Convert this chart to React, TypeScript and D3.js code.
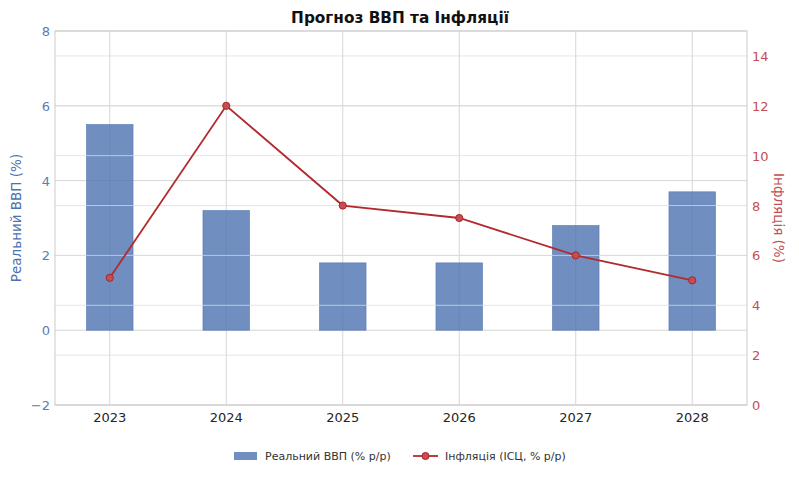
import React from "react";
import * as d3 from "d3";

const years = ["2023", "2024", "2025", "2026", "2027", "2028"];
const gdp = [5.5, 3.2, 1.8, 1.8, 2.8, 3.7];
const inflation = [5.1, 12, 8, 7.5, 6, 5];
const leftTicks = [-2, 0, 2, 4, 6, 8];
const rightTicks = [0, 2, 4, 6, 8, 10, 12, 14];

const W = 799, H = 479;
const m = { left: 55, right: 747, top: 31, bottom: 405 };
const FONT = "DejaVu Sans, sans-serif";
const BLUE = "#4C72B0";
const RED = "#C44E52";

export default function App() {
  const x = d3.scaleLinear().domain([-0.47, 5.47]).range([m.left, m.right]);
  const yL = d3.scaleLinear().domain([-2, 8]).range([m.bottom, m.top]);
  const yR = d3.scaleLinear().domain([0, 15]).range([m.bottom, m.top]);
  const barW = x(0.4) - x(0);
  const line = d3.line<number>().x((_, i) => x(i)).y((d) => yR(d));

  return (
    <div style={{ margin: -8 }}>
      <svg width={W} height={H} style={{ display: "block", background: "#fff" }} fontFamily={FONT}>
        <text x={400} y={23} textAnchor="middle" fontSize={15.3} fontWeight="bold" fill="#111">
          Прогноз ВВП та Інфляції
        </text>
        {/* vertical grid */}
        {years.map((_, i) => (
          <line key={"vg" + i} x1={x(i)} x2={x(i)} y1={m.top} y2={m.bottom} stroke="#d6d6d6" strokeWidth={1} />
        ))}
        {/* left grid */}
        {leftTicks.map((t) => (
          <line key={"lg" + t} x1={m.left} x2={m.right} y1={yL(t)} y2={yL(t)} stroke="#d6d6d6" strokeWidth={1} />
        ))}
        {/* bars */}
        {gdp.map((v, i) => (
          <rect key={"b" + i} x={x(i) - barW / 2} width={barW} y={yL(Math.max(0, v))} height={Math.abs(yL(v) - yL(0))}
            fill={BLUE} fillOpacity={0.8} stroke={BLUE} strokeOpacity={0.9} strokeWidth={0.6} />
        ))}
        {/* right grid on top of bars */}
        {rightTicks.map((t) => (
          <line key={"rg" + t} x1={m.left} x2={m.right} y1={yR(t)} y2={yR(t)} stroke="#dcdcdc" strokeOpacity={0.75} strokeWidth={1} />
        ))}
        {/* spines */}
        <rect x={m.left} y={m.top} width={m.right - m.left} height={m.bottom - m.top} fill="none" stroke="#cccccc" strokeWidth={1} />
        {/* line */}
        <path d={line(inflation) || ""} fill="none" stroke="#B22A2E" strokeWidth={1.8} />
        {inflation.map((v, i) => (
          <circle key={"c" + i} cx={x(i)} cy={yR(v)} r={3.6} fill={RED} stroke="#A8262B" strokeWidth={1} />
        ))}
        {/* x tick labels */}
        {years.map((y, i) => (
          <text key={"xl" + i} x={x(i)} y={m.bottom + 17} textAnchor="middle" fontSize={13} fill="#262626">{y}</text>
        ))}
        {/* left tick labels */}
        {leftTicks.map((t) => (
          <text key={"ll" + t} x={m.left - 5} y={yL(t) + 5} textAnchor="end" fontSize={13} fill="#5A7DB5">
            {t < 0 ? "\u2212" + Math.abs(t) : t}
          </text>
        ))}
        {/* right tick labels */}
        {rightTicks.map((t) => (
          <text key={"rl" + t} x={m.right + 5} y={yR(t) + 5} textAnchor="start" fontSize={13} fill={RED}>{t}</text>
        ))}
        {/* axis labels */}
        <text transform={`translate(21,${(m.top + m.bottom) / 2}) rotate(-90)`} textAnchor="middle" fontSize={13.5} fill={BLUE}>
          Реальний ВВП (%)
        </text>
        <text transform={`translate(774,${(m.top + m.bottom) / 2}) rotate(90)`} textAnchor="middle" fontSize={13.5} fill={RED}>
          Інфляція (%)
        </text>
        {/* legend */}
        <rect x={234} y={452} width={23} height={8} fill={BLUE} fillOpacity={0.8} />
        <text x={265} y={460} fontSize={11} fill="#333">Реальний ВВП (% р/р)</text>
        <line x1={413} x2={438} y1={456} y2={456} stroke="#B22A2E" strokeWidth={1.8} />
        <circle cx={425.5} cy={456} r={3.6} fill={RED} stroke="#A8262B" strokeWidth={1} />
        <text x={445} y={460} fontSize={11} fill="#333">Інфляція (ІСЦ, % р/р)</text>
      </svg>
    </div>
  );
}
